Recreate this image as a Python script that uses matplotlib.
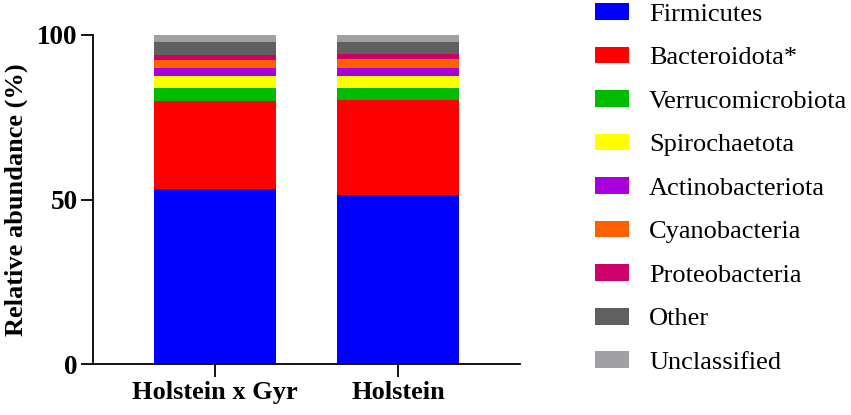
import matplotlib
matplotlib.use("Agg")
import matplotlib.pyplot as plt
import numpy as np

groups = ["Holstein x Gyr", "Holstein"]
taxa = ["Firmicutes", "Bacteroidota*", "Verrucomicrobiota", "Spirochaetota",
        "Actinobacteriota", "Cyanobacteria", "Proteobacteria", "Other", "Unclassified"]
firmicutes = [53.1, 51.5]
bacteroidota = [26.9, 28.7]
verrucomicrobiota = [3.8, 3.6]
spirochaetota = [3.7, 3.7]
actinobacteriota = [2.6, 2.6]
cyanobacteria = [2.4, 2.6]
proteobacteria = [1.4, 1.6]
other = [4.1, 3.7]
unclassified = [2.0, 2.0]
series = [firmicutes, bacteroidota, verrucomicrobiota, spirochaetota,
          actinobacteriota, cyanobacteria, proteobacteria, other, unclassified]
colors = ["#0000FF", "#FF0000", "#00BB00", "#FFFF00", "#A800DC",
          "#FF6000", "#CC0066", "#606060", "#A0A0A4"]
yticks = [0, 50, 100]

plt.rcParams['font.family'] = ['Liberation Serif', 'DejaVu Serif']

fig = plt.figure(figsize=(8.51, 4.15), dpi=100)
ax = fig.add_axes([93/851, 1-364.3/415, (520-93)/851, (364.3-35)/415])

x = np.arange(len(groups))
bottom = np.zeros(len(groups))
handles = []
for vals, c, name in zip(series, colors, taxa):
    h = ax.bar(x, vals, width=0.667, bottom=bottom, color=c, label=name, linewidth=0)
    handles.append(h)
    bottom += np.array(vals)

ax.set_xlim(-0.667, 1.667)
ax.set_ylim(0, 100)
ax.set_yticks(yticks)
ax.set_yticklabels([str(t) for t in yticks], fontsize=19.5, fontweight='bold')
ax.set_xticks(x)
ax.set_xticklabels(groups, fontsize=19, fontweight='bold')
ax.set_ylabel("Relative abundance (%)", fontsize=19, fontweight='bold', labelpad=6.5)
for s in ["top", "right"]:
    ax.spines[s].set_visible(False)
for s in ["left", "bottom"]:
    ax.spines[s].set_linewidth(1.3)
ax.tick_params(axis='both', length=9, width=1.3, pad=3)
ax.tick_params(axis='y', pad=2)

fig.legend(handles, taxa, loc='center left', bbox_to_anchor=(595/851, 1-188.5/415),
           frameon=False, fontsize=19, labelspacing=0.79, handlelength=1.29,
           handleheight=0.6, handletextpad=0.76, borderpad=0, borderaxespad=0)

fig.savefig("out.png", dpi=100)
